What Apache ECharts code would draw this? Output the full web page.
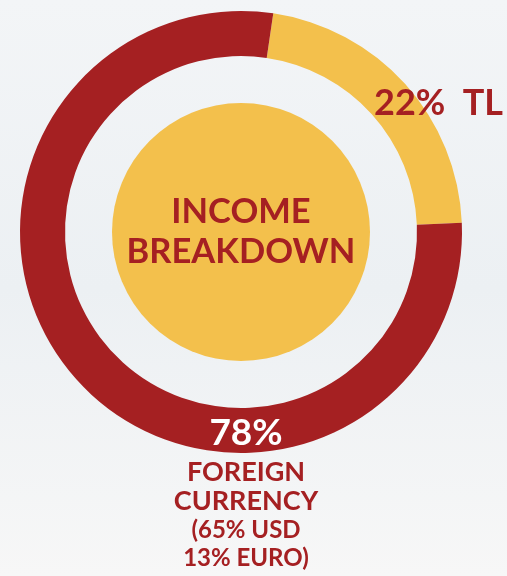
<!DOCTYPE html>
<html>
<head>
<meta charset="utf-8">
<script src="https://cdn.jsdelivr.net/npm/echarts@6/dist/echarts.min.js"></script>
<style>
  html, body { margin: 0; padding: 0; }
  #incomeBreakdown { width: 507px; height: 576px; }
</style>
</head>
<body>
<div id="incomeBreakdown"></div>
<script>
  // data
  var categories = ['TL', 'FOREIGN\nCURRENCY']
  var shares = [22, 78]
  var foreignSplit = ['65% USD', '13% EURO']
  var centerTitle = 'INCOME\nBREAKDOWN'

  var red = '#A52022'
  var yellow = '#F3C04C'
  var font = 'Lato'

  var chart = echarts.init(document.getElementById('incomeBreakdown'))

  var option = {
    backgroundColor: {
      type: 'linear', x: 0, y: 0, x2: 0, y2: 1,
      colorStops: [
        {offset: 0, color: '#F3F5F7'},
        {offset: 0.5, color: '#ECF0F3'},
        {offset: 1, color: '#F7F7F7'}
      ]
    },
    animation: false,
    series: [
      {
        type: 'pie',
        center: [241, 232],
        radius: [0, 129],
        silent: true,
        itemStyle: {color: yellow},
        label: {
          show: true,
          position: 'center',
          formatter: centerTitle,
          color: red,
          fontFamily: font,
          fontWeight: 'bold',
          fontSize: 34.5,
          lineHeight: 40
        },
        labelLine: {show: false},
        data: [{value: 1, name: 'INCOME BREAKDOWN'}]
      },
      {
        type: 'pie',
        center: [241, 232],
        radius: [176, 221],
        startAngle: 81.6,
        clockwise: true,
        silent: true,
        labelLine: {show: false},
        label: {
          show: true,
          position: 'inside',
          fontFamily: font,
          fontWeight: 'bold',
          formatter: function (p) {
            if (p.dataIndex === 0) {
              return '{tl|' + p.value + '%  ' + p.name + '}'
            }
            return '{big|' + p.value + '%}\n{mid|' + p.name.split('\n').join('}\n{mid|') + '}\n' +
              '{small|(' + foreignSplit[0] + '}\n{small|' + foreignSplit[1] + ')}'
          },
          rich: {
            tl: {color: red, fontFamily: font, fontWeight: 'bold', fontSize: 36},
            big: {color: '#ffffff', fontFamily: font, fontWeight: 'bold', fontSize: 37, lineHeight: 50, align: 'center'},
            mid: {color: red, fontFamily: font, fontWeight: 'bold', fontSize: 27, lineHeight: 29, align: 'center'},
            small: {color: red, fontFamily: font, fontWeight: 'bold', fontSize: 24, lineHeight: 28, align: 'center'}
          }
        },
        labelLayout: function (params) {
          if (params.dataIndex === 0) {
            return {x: 374, y: 103, align: 'left', verticalAlign: 'middle'}
          }
          return {x: 246, y: 408, align: 'center', verticalAlign: 'top'}
        },
        data: [
          {value: shares[0], name: categories[0], itemStyle: {color: yellow}},
          {value: shares[1], name: categories[1], itemStyle: {color: red}}
        ]
      }
    ]
  }

  chart.setOption(option)
</script>
</body>
</html>
